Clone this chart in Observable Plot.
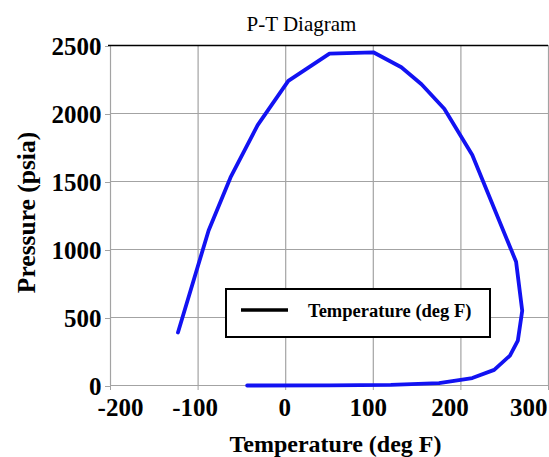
<!DOCTYPE html>
<html>
<head>
<meta charset="utf-8">
<script src="https://cdn.jsdelivr.net/npm/d3@7"></script>
<script src="https://cdn.jsdelivr.net/npm/@observablehq/plot@0.6"></script>
<style>
  html, body { margin: 0; padding: 0; background: #fff; }
  #chart { width: 549px; height: 457px; }
</style>
</head>
<body>
<div id="chart"></div>
<script>
// Phase envelope: temperature (deg F) and pressure (psia), in drawing order
const temperature = [-123, -88, -63, -32, 3, 50, 100, 132, 155, 181, 213, 263, 270, 265, 256, 238, 213, 175, 120, 50, -44];
const pressure    = [390, 1140, 1530, 1915, 2240, 2440, 2450, 2340, 2215, 2035, 1695, 910, 550, 330, 220, 115, 55, 18, 5, 1, 0];

const xTicks = [-200, -100, 0, 100, 200, 300];
const yTicks = [0, 500, 1000, 1500, 2000, 2500];

const chartTitle = "P-T Diagram";
const xLabel = "Temperature (deg F)";
const yLabel = "Pressure (psia)";
const seriesName = "Temperature (deg F)";

const points = temperature.map((t, i) => ({T: t, P: pressure[i]}));

const serif = "'Liberation Serif', 'Times New Roman', serif";
const gridColor = "#a3a3a3";
const tickFont = {fontSize: 25, fontWeight: "bold", fontFamily: serif, fill: "#000"};

// Horizontal nudges for the x tick labels so the outer ones stay inside the frame
const xLabelShift = [10, -3, -1, -5, -11, 0];

const xLabelMarks = xTicks.map((t, i) =>
  Plot.text([t], {
    x: d => d,
    frameAnchor: "bottom",
    lineAnchor: "middle",
    textAnchor: i === xTicks.length - 1 ? "end" : "middle",
    dx: i === xTicks.length - 1 ? -1 : xLabelShift[i],
    dy: 22,
    text: d => String(d),
    ...tickFont
  })
);

const plot = Plot.plot({
  width: 549,
  height: 457,
  marginLeft: 110,
  marginRight: 1,
  marginTop: 45,
  marginBottom: 72,
  style: {fontFamily: serif, background: "#fff", color: "#000"},
  x: {domain: [d3.min(xTicks), d3.max(xTicks)], label: null},
  y: {domain: [d3.min(yTicks), d3.max(yTicks)], label: null},
  marks: [
    Plot.gridX(xTicks, {stroke: gridColor, strokeOpacity: 1, strokeWidth: 1.2}),
    Plot.gridY(yTicks, {stroke: gridColor, strokeOpacity: 1, strokeWidth: 1.2}),
    Plot.ruleY([d3.max(yTicks)], {stroke: "#000", strokeWidth: 1.6, insetLeft: -2}),
    Plot.axisX(xTicks, {tickSize: 5, stroke: gridColor, fill: "none", label: null}),
    ...xLabelMarks,
    Plot.axisY(yTicks, {
      tickSize: 5, tickPadding: 4, stroke: gridColor, dy: 1,
      ...tickFont,
      tickFormat: d => String(d), label: null
    }),
    Plot.line(points, {x: "T", y: "P", stroke: "#1212f2", strokeWidth: 3.8, strokeLinejoin: "round", strokeLinecap: "round"}),
    Plot.text([chartTitle], {frameAnchor: "top", lineAnchor: "middle", textAnchor: "middle", dx: -28, dy: -21, fontSize: 21, fontFamily: serif, fill: "#000"}),
    Plot.text([xLabel], {frameAnchor: "bottom", lineAnchor: "middle", textAnchor: "middle", dx: 6, dy: 59, fontSize: 24, fontWeight: "bold", fontFamily: serif, fill: "#000"}),
    Plot.text([yLabel], {frameAnchor: "left", lineAnchor: "middle", textAnchor: "middle", rotate: -90, dx: -84, dy: -3, fontSize: 25.5, fontWeight: "bold", fontFamily: serif, fill: "#000"})
  ]
});

document.getElementById("chart").appendChild(plot);

// Boxed legend inside the plotting area
const svg = d3.select(plot);
const legend = svg.append("g").attr("class", "legend");
legend.append("rect")
  .attr("x", 226).attr("y", 289).attr("width", 264).attr("height", 48)
  .attr("fill", "#fff").attr("stroke", "#000").attr("stroke-width", 2);
legend.append("line")
  .attr("x1", 241).attr("x2", 288).attr("y1", 310).attr("y2", 310)
  .attr("stroke", "#000").attr("stroke-width", 3.5);
legend.append("text")
  .attr("x", 308).attr("y", 317)
  .attr("text-anchor", "start")
  .attr("font-family", serif).attr("font-weight", "bold").attr("font-size", 18.5)
  .attr("fill", "#000")
  .text(seriesName);
</script>
</body>
</html>
